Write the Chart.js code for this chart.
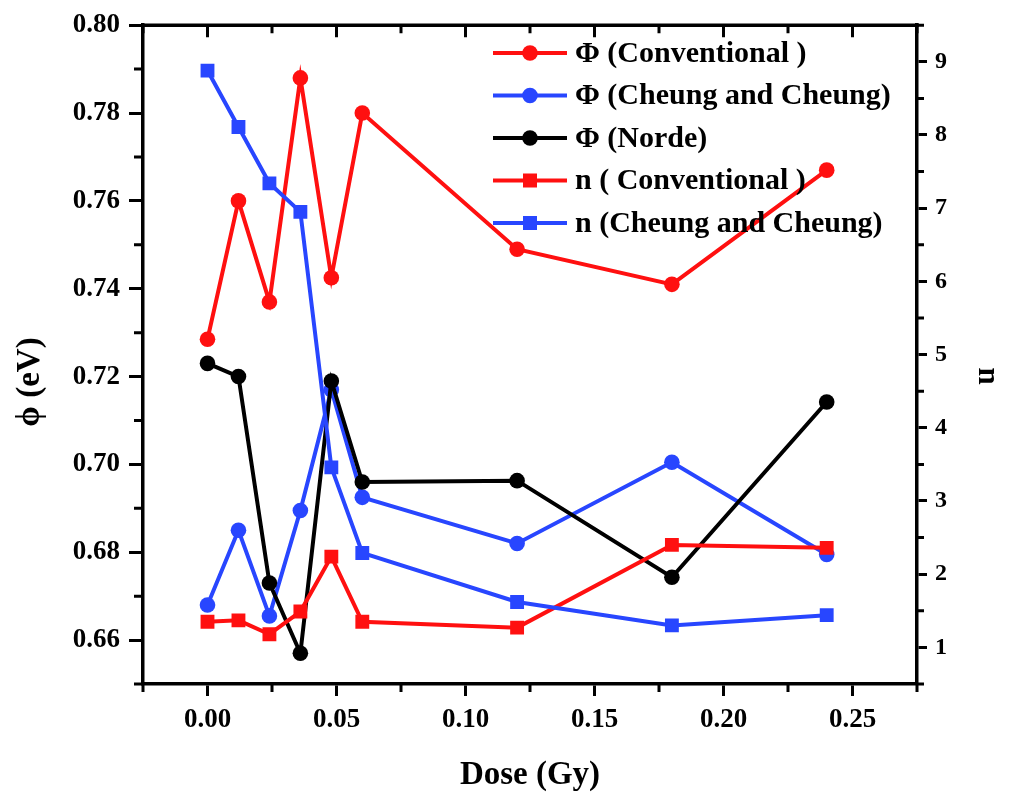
<!DOCTYPE html>
<html>
<head>
<meta charset="utf-8">
<script src="https://cdn.jsdelivr.net/npm/chart.js@4/dist/chart.umd.min.js"></script>
<style>
  html, body { margin: 0; padding: 0; background: #ffffff; }
  #wrap { width: 1010px; height: 797px; }
</style>
</head>
<body>
<div id="wrap"><canvas id="c" width="1010" height="797"></canvas></div>
<script>
// Dose values (Gy)
const dose = [0, 0.012, 0.024, 0.036, 0.048, 0.06, 0.12, 0.18, 0.24];

// Barrier height (eV) from three methods
const phiConventional = [0.7285, 0.760, 0.737, 0.788, 0.7425, 0.780, 0.749, 0.741, 0.767];
const phiCheung       = [0.668, 0.685, 0.6655, 0.6895, 0.717, 0.6925, 0.682, 0.7005, 0.6795];
const phiNorde        = [0.723, 0.720, 0.673, 0.657, 0.719, 0.696, 0.6963, 0.6743, 0.7142];

// Ideality factor n
const nConventional = [1.35, 1.37, 1.18, 1.49, 2.24, 1.35, 1.27, 2.40, 2.36];
const nCheung       = [8.88, 8.11, 7.34, 6.95, 3.46, 2.29, 1.62, 1.30, 1.44];

// Axis tick labels
const doseTicks = [0.00, 0.05, 0.10, 0.15, 0.20, 0.25];
const doseMinor = [-0.025, 0.025, 0.075, 0.125, 0.175, 0.225, 0.275];
const phiTicks  = [0.66, 0.68, 0.70, 0.72, 0.74, 0.76, 0.78, 0.80];
const phiMinor  = [0.65, 0.67, 0.69, 0.71, 0.73, 0.75, 0.77, 0.79];
const nTicks    = [1, 2, 3, 4, 5, 6, 7, 8, 9];
const nMinor    = [0.5, 1.5, 2.5, 3.5, 4.5, 5.5, 6.5, 7.5, 8.5, 9.5];

const seriesLabels = [
  '\u03A6 (Conventional )',
  '\u03A6 (Cheung and Cheung)',
  '\u03A6 (Norde)',
  'n ( Conventional )',
  'n (Cheung and Cheung)'
];
const phiTitle = '\u03D5 (eV)';
const nTitle = 'n';
const doseTitle = 'Dose (Gy)';

const RED = '#ff1010';
const BLUE = '#2846ff';
const BLACK = '#000000';
const FONT = '"Liberation Serif", "Times New Roman", serif';

const pts = (ys) => dose.map((d, i) => ({ x: d, y: ys[i] }));

function series(label, ys, color, style, axis, order) {
  const isRect = style === 'rect';
  return {
    label: label,
    data: pts(ys),
    yAxisID: axis,
    showLine: true,
    borderColor: color,
    backgroundColor: color,
    borderWidth: 4,
    pointStyle: style,
    pointRadius: isRect ? 9.8 : 7.8,
    pointHoverRadius: isRect ? 9.8 : 7.8,
    pointBorderWidth: 0,
    pointBackgroundColor: color,
    tension: 0,
    order: order
  };
}

// Axis frame: top line, minor ticks, top mirror ticks and vertical axis titles
const framePlugin = {
  id: 'frame',
  afterDraw(chart) {
    const ctx = chart.ctx;
    const a = chart.chartArea;
    const x = chart.scales.x, y = chart.scales.y, y2 = chart.scales.y2;
    ctx.save();
    ctx.strokeStyle = '#000';
    ctx.lineCap = 'butt';
    ctx.lineWidth = 3.5;
    ctx.beginPath();
    ctx.moveTo(a.left - 1.75, a.top);
    ctx.lineTo(a.right + 1.75, a.top);
    ctx.stroke();

    ctx.lineWidth = 3;
    ctx.beginPath();
    phiMinor.forEach(v => {
      const py = y.getPixelForValue(v);
      ctx.moveTo(a.left, py); ctx.lineTo(a.left - 9, py);
    });
    nMinor.forEach(v => {
      const py = y2.getPixelForValue(v);
      ctx.moveTo(a.right, py); ctx.lineTo(a.right + 7, py);
    });
    doseMinor.forEach(v => {
      const px = x.getPixelForValue(v);
      ctx.moveTo(px, a.bottom); ctx.lineTo(px, a.bottom + 8);
    });
    doseTicks.forEach(v => {
      const px = x.getPixelForValue(v);
      ctx.moveTo(px, a.top); ctx.lineTo(px, a.top + 12);
    });
    doseMinor.forEach(v => {
      const px = x.getPixelForValue(v);
      ctx.moveTo(px, a.top); ctx.lineTo(px, a.top + 8);
    });
    ctx.stroke();

    // vertical axis titles
    ctx.fillStyle = '#000';
    ctx.textAlign = 'center';
    ctx.textBaseline = 'middle';
    ctx.font = 'bold 33px ' + FONT;
    ctx.save();
    ctx.translate(30, 382);
    ctx.rotate(-Math.PI / 2);
    ctx.fillText(phiTitle, 0, 0);
    ctx.restore();
    ctx.font = 'bold 31px ' + FONT;
    ctx.save();
    ctx.translate(987, 376);
    ctx.rotate(Math.PI / 2);
    ctx.fillText(nTitle, 0, 0);
    ctx.restore();
    ctx.restore();
  }
};

// Legend: line segment with marker, then bold label
const legendPlugin = {
  id: 'lineLegend',
  afterDraw(chart) {
    const ctx = chart.ctx;
    const x0 = 493, x1 = 567, tx = 575;
    const top = 53, step = 42.5;
    ctx.save();
    chart.data.datasets.forEach((ds, i) => {
      const cy = top + i * step;
      ctx.strokeStyle = ds.borderColor;
      ctx.lineWidth = 4;
      ctx.beginPath();
      ctx.moveTo(x0, cy); ctx.lineTo(x1, cy);
      ctx.stroke();
      ctx.fillStyle = ds.backgroundColor;
      const cx = (x0 + x1) / 2;
      if (ds.pointStyle === 'rect') {
        ctx.fillRect(cx - 7, cy - 7, 14, 14);
      } else {
        ctx.beginPath();
        ctx.arc(cx, cy, 7.8, 0, Math.PI * 2);
        ctx.fill();
      }
      ctx.fillStyle = '#000';
      ctx.font = 'bold 30px ' + FONT;
      ctx.textAlign = 'left';
      ctx.textBaseline = 'middle';
      ctx.fillText(ds.label, tx, cy + 1);
    });
    ctx.restore();
  }
};

const tickFont = { family: FONT, size: 27, weight: 'bold' };

new Chart(document.getElementById('c'), {
  type: 'scatter',
  data: {
    datasets: [
      series(seriesLabels[0], phiConventional, RED, 'circle', 'y', 5),
      series(seriesLabels[1], phiCheung, BLUE, 'circle', 'y', 4),
      series(seriesLabels[2], phiNorde, BLACK, 'circle', 'y', 3),
      series(seriesLabels[3], nConventional, RED, 'rect', 'y2', 2),
      series(seriesLabels[4], nCheung, BLUE, 'rect', 'y2', 1)
    ]
  },
  options: {
    responsive: false,
    animation: false,
    devicePixelRatio: 1,
    layout: { padding: { top: 25, left: 0, right: 0, bottom: 0 } },
    plugins: {
      legend: { display: false },
      tooltip: { enabled: false }
    },
    scales: {
      x: {
        type: 'linear',
        position: 'bottom',
        min: -0.025,
        max: 0.275,
        afterBuildTicks: (s) => { s.ticks = doseTicks.map(v => ({ value: v })); },
        afterFit: (s) => { s.height = 113; },
        ticks: {
          color: '#000',
          font: tickFont,
          padding: 8,
          maxRotation: 0,
          callback: (v) => Number(v).toFixed(2)
        },
        grid: { drawOnChartArea: false, drawTicks: true, tickLength: 12, tickWidth: 3, tickColor: '#000' },
        border: { display: true, color: '#000', width: 3.5 },
        title: {
          display: true,
          text: doseTitle,
          color: '#000',
          font: { family: FONT, size: 33, weight: 'bold' },
          padding: { top: 4, bottom: 2 }
        }
      },
      y: {
        type: 'linear',
        position: 'left',
        min: 0.65,
        max: 0.80,
        afterBuildTicks: (s) => { s.ticks = phiTicks.map(v => ({ value: v })); },
        afterFit: (s) => { s.width = 143; },
        ticks: {
          color: '#000',
          font: tickFont,
          padding: 9,
          callback: (v) => Number(v).toFixed(2)
        },
        grid: { drawOnChartArea: false, drawTicks: true, tickLength: 14, tickWidth: 3, tickColor: '#000' },
        border: { display: true, color: '#000', width: 3.5 }
      },
      y2: {
        type: 'linear',
        position: 'right',
        min: 0.5,
        max: 9.5,
        afterBuildTicks: (s) => { s.ticks = nTicks.map(v => ({ value: v })); },
        afterFit: (s) => { s.width = 93; },
        ticks: {
          color: '#000',
          font: { family: FONT, size: 24, weight: 'bold' },
          padding: 8,
          callback: (v) => String(v)
        },
        grid: { drawOnChartArea: false, drawTicks: true, tickLength: 10, tickWidth: 3, tickColor: '#000' },
        border: { display: true, color: '#000', width: 3.5 }
      }
    }
  },
  plugins: [framePlugin, legendPlugin]
});
</script>
</body>
</html>
